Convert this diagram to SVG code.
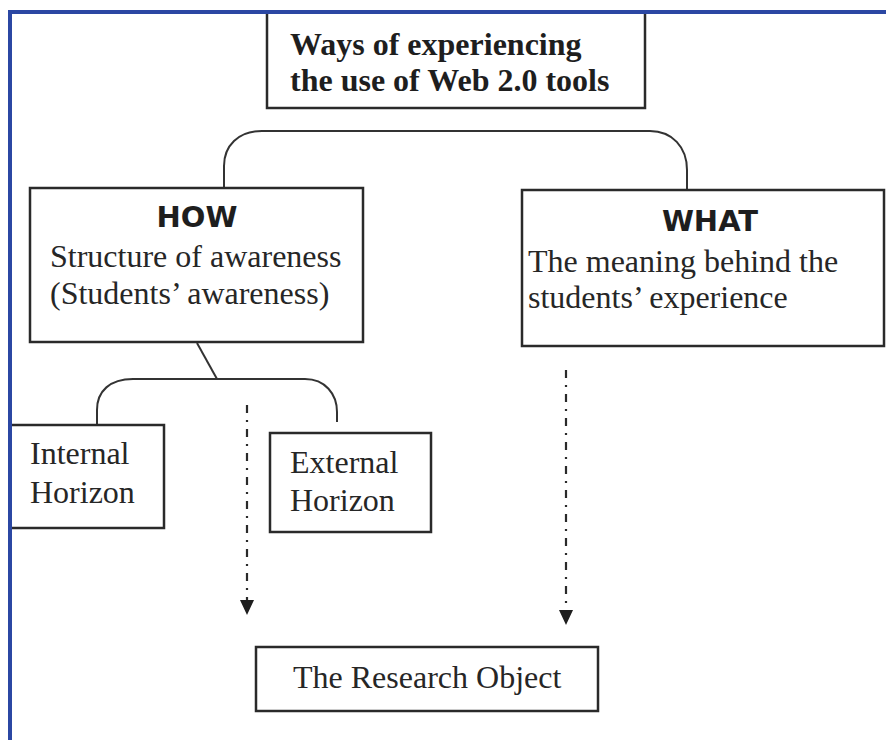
<svg xmlns="http://www.w3.org/2000/svg" width="886" height="740" viewBox="0 0 886 740">
  <style>
    .box { fill: #ffffff; stroke: #2a2a2a; stroke-width: 2.5; }
    .t { font-family: "Liberation Serif", "Times New Roman", serif; font-size: 32px; fill: #262626; }
    .title { font-family: "Liberation Serif", "Times New Roman", serif; font-size: 32px; font-weight: bold; fill: #1e1e1e; }
    .head { font-family: "DejaVu Sans", "Liberation Sans", sans-serif; font-size: 29px; font-weight: bold; fill: #1e1e1e; text-anchor: middle; }
    .link { fill: none; stroke: #333333; stroke-width: 2; }
    .dash { fill: none; stroke: #2a2a2a; stroke-width: 2.2; stroke-dasharray: 8 7 2 7; }
    .frame { stroke: #2b47a3; stroke-width: 4; fill: none; }
    .head-tri { fill: #1e1e1e; }
  </style>
  <rect width="886" height="740" fill="#ffffff"/>

  <g id="connectors">
    <path class="link" d="M224,188 L224,166 C224,146 238,131 262,131 L650,131 C672,131 687,147 687,170 L687,190"/>
    <path class="link" d="M197,343 L217,379"/>
    <path class="link" d="M97,424 L97,410 C97,391 110,379 133,379 L305,379 C325,379 337,394 337,412 L337,422"/>
    <path class="dash" d="M247,405 L247,600"/>
    <path class="head-tri" d="M240,600 L254,600 L247,615 Z"/>
    <path class="dash" d="M566,370 L566,610"/>
    <path class="head-tri" d="M559,610 L573,610 L566,625 Z"/>
  </g>

  <g id="node-title">
    <rect class="box" x="267" y="12" width="378" height="96"/>
    <text class="title" x="290" y="55">Ways of experiencing</text>
    <text class="title" x="290" y="91">the use of Web 2.0 tools</text>
  </g>

  <g id="node-how">
    <rect class="box" x="30" y="188" width="333" height="154"/>
    <text class="head" x="197" y="227">HOW</text>
    <text class="t" x="50" y="267">Structure of awareness</text>
    <text class="t" x="50" y="304">(Students’ awareness)</text>
  </g>

  <g id="node-what">
    <rect class="box" x="522" y="190" width="362" height="156"/>
    <text class="head" x="710" y="231">WHAT</text>
    <text class="t" x="528" y="272">The meaning behind the</text>
    <text class="t" x="528" y="308">students’ experience</text>
  </g>

  <g id="node-internal">
    <rect class="box" x="10" y="425" width="154" height="103"/>
    <text class="t" x="30" y="464">Internal</text>
    <text class="t" x="30" y="503">Horizon</text>
  </g>

  <g id="node-external">
    <rect class="box" x="270" y="433" width="161" height="99"/>
    <text class="t" x="290" y="473">External</text>
    <text class="t" x="290" y="511">Horizon</text>
  </g>

  <g id="node-research">
    <rect class="box" x="256" y="647" width="342" height="64"/>
    <text class="t" x="293" y="688">The Research Object</text>
  </g>

  <path class="frame" d="M10,740 L10,12 L886,12"/>
</svg>
